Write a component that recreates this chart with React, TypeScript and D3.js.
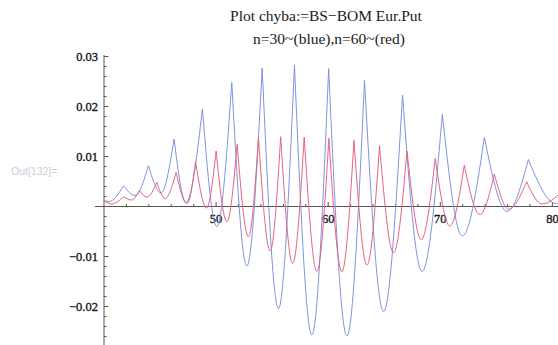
import React from "react";
import * as d3 from "d3";

// n = 30 steps (blue): cusp positions/heights and the dips between them
const BLUE_START: [number, number] = [40, 0.0012];
const BLUE_PEAK_X = [41.74, 43.96, 46.25, 48.78, 51.4, 54.11, 56.99, 60.04, 63.24, 66.63, 70.18, 73.93, 77.86];
const BLUE_PEAK_Y = [0.00416, 0.00816, 0.0135, 0.0195, 0.0248, 0.0277, 0.0283, 0.0276, 0.0252, 0.0223, 0.0184, 0.0138, 0.0094];
const BLUE_DIP_X = [40.45, 42.77, 45.09, 47.32, 50.06, 52.74, 55.56, 58.54, 61.67, 64.94, 68.37, 71.96, 75.96, 80.3];
const BLUE_DIP_Y = [0.001, 0.0022, 0.0027, 0.0008, -0.004, -0.0119, -0.0204, -0.0257, -0.0259, -0.021, -0.013, -0.0059, -0.001, 0.0006];
const BLUE_END: [number, number] = [80.8, 0.0009];

// n = 60 steps (red)
const RED_START: [number, number] = [40, 0.0011];
const RED_PEAK_X = [41.74, 43.15, 44.71, 46.43, 48.17, 50.0, 51.88, 53.78, 55.76, 57.86, 60.06, 62.3, 64.58, 67.03, 69.55, 72.14, 74.82, 77.7, 80.75];
const RED_PEAK_Y = [0.00196, 0.0032, 0.00484, 0.0068, 0.00896, 0.0111, 0.01244, 0.01376, 0.01396, 0.0139, 0.01364, 0.0132, 0.0122, 0.0111, 0.00964, 0.00824, 0.0065, 0.00496, 0.0028];
const RED_DIP_X = [40.69, 42.47, 43.84, 45.45, 47.41, 49.15, 50.96, 52.88, 54.82, 56.83, 58.99, 61.22, 63.46, 65.83, 68.3, 70.85, 73.53, 76.1, 79.08];
const RED_DIP_Y = [0.0005, 0.0013, 0.0019, 0.0016, 0.0006, -0.0003, -0.00304, -0.00604, -0.0089, -0.01136, -0.01296, -0.01304, -0.0117, -0.00924, -0.0066, -0.0039, -0.0016, -0.00056, 0.0005];

const X_MAJOR = [50, 60, 70, 80];
const X_MINOR = [42, 44, 46, 48, 52, 54, 56, 58, 62, 64, 66, 68, 72, 74, 76, 78];
const Y_MAJOR = [-0.02, -0.01, 0.01, 0.02, 0.03];
const Y_LABELS = ["\u22120.02", "\u22120.01", "0.01", "0.02", "0.03"];
const Y_MINOR = [-0.028, -0.026, -0.024, -0.022, -0.018, -0.016, -0.014, -0.012, -0.008, -0.006, -0.004, -0.002,
  0.002, 0.004, 0.006, 0.008, 0.012, 0.014, 0.016, 0.018, 0.022, 0.024, 0.026, 0.028];

const TITLE_1 = "Plot chyba:=BS\u2212BOM Eur.Put";
const TITLE_2 = "n=30~(blue),n=60~(red)";

const W = 558;
const H = 345;

const x = d3.scaleLinear().domain([40, 80]).range([104, 552.4]);
const y = d3.scaleLinear().domain([0, 0.01]).range([206.5, 156.5]);

type Pt = [number, number];

// Each arch between two cusps is drawn as its own smooth piece, so the
// joins at the cusps stay sharp while the dips stay rounded.
function archPath(start: Pt, px: number[], py: number[], dx: number[], dy: number[], end?: Pt): string {
  const line = d3.line<Pt>().x((d) => x(d[0])).y((d) => y(d[1])).curve(d3.curveMonotoneX);
  const peaks: Pt[] = px.map((v, i) => [v, py[i]]);
  const dips: Pt[] = dx.map((v, i) => [v, dy[i]]);
  let d = line([start, dips[0], peaks[0]]) || "";
  for (let i = 1; i < peaks.length; i++) {
    d += line([peaks[i - 1], dips[i], peaks[i]]) || "";
  }
  if (end && dips.length > peaks.length) {
    d += line([peaks[peaks.length - 1], dips[peaks.length], end]) || "";
  }
  return d;
}

export default function App() {
  const blueD = archPath(BLUE_START, BLUE_PEAK_X, BLUE_PEAK_Y, BLUE_DIP_X, BLUE_DIP_Y, BLUE_END);
  const redD = archPath(RED_START, RED_PEAK_X, RED_PEAK_Y, RED_DIP_X, RED_DIP_Y);
  const axisColor = "#555";
  const x0 = x(40);
  const y0 = y(0);
  return (
    <svg
      width={W}
      height={H}
      viewBox={`0 0 ${W} ${H}`}
      style={{ position: "absolute", left: 0, top: 0, background: "#fff" }}
    >
      <rect width={W} height={H} fill="#fff" />
      <text x={11} y={175} fontFamily="Liberation Sans, Arial, sans-serif" fontSize={10.5} fill="#c9ced9">
        Out[132]=
      </text>
      <g fontFamily="'Liberation Serif', 'Times New Roman', serif" fill="#1a1a1a" textAnchor="middle">
        <text x={326} y={21} fontSize={15.5}>{TITLE_1}</text>
        <text x={329} y={44} fontSize={15.5}>{TITLE_2}</text>
      </g>
      <g stroke={axisColor} strokeWidth={1} fill="none">
        <line x1={95} x2={W} y1={y0} y2={y0} />
        <line x1={x0} x2={x0} y1={y(0.0303)} y2={H} />
        {X_MAJOR.map((v) => (
          <line key={"xm" + v} x1={x(v)} x2={x(v)} y1={y0} y2={y0 - 4.5} />
        ))}
        {X_MINOR.map((v) => (
          <line key={"xn" + v} x1={x(v)} x2={x(v)} y1={y0} y2={y0 - 2.5} />
        ))}
        {Y_MAJOR.map((v) => (
          <line key={"ym" + v} x1={x0} x2={x0 + 4.5} y1={y(v)} y2={y(v)} />
        ))}
        {Y_MINOR.map((v) => (
          <line key={"yn" + v} x1={x0} x2={x0 + 2.5} y1={y(v)} y2={y(v)} />
        ))}
      </g>
      <g
        fontFamily="'Liberation Serif', 'Times New Roman', serif"
        fontSize={12.5}
        fill="#1a1a1a"
        stroke="#1a1a1a"
        strokeWidth={0.35}
      >
        {Y_MAJOR.map((v, i) => (
          <text key={"yl" + v} x={x0 - 6} y={y(v) + 4} textAnchor="end">
            {Y_LABELS[i]}
          </text>
        ))}
        {X_MAJOR.map((v) => (
          <text key={"xl" + v} x={x(v)} y={y0 + 16} textAnchor="middle">
            {String(v)}
          </text>
        ))}
      </g>
      <path d={blueD} fill="none" stroke="#7f92e2" strokeWidth={1} strokeLinejoin="miter" />
      <path d={redD} fill="none" stroke="#e6627f" strokeWidth={1} strokeLinejoin="miter" />
    </svg>
  );
}
